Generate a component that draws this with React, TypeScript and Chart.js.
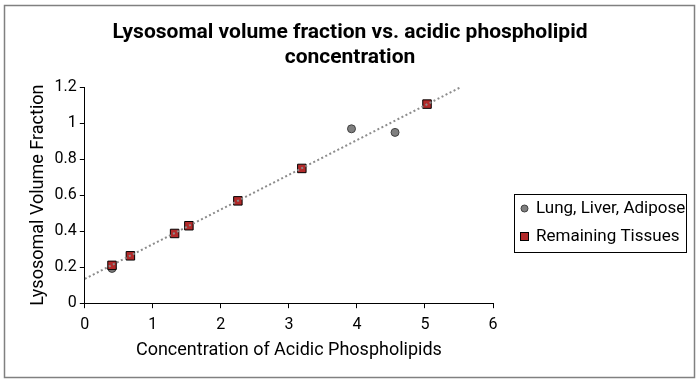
import React, { useEffect, useRef } from "react";
import { Chart, registerables } from "chart.js";

Chart.register(...registerables);

const TITLE_LINES = ["Lysosomal volume fraction vs. acidic phospholipid", "concentration"];
const X_TITLE = "Concentration of Acidic Phospholipids";
const Y_TITLE = "Lysosomal Volume Fraction";

const LUNG_LABEL = "Lung, Liver, Adipose";
const LUNG_X = [0.4, 3.92, 4.56];
const LUNG_Y = [0.193, 0.968, 0.948];

const REST_LABEL = "Remaining Tissues";
const REST_X = [0.4, 0.67, 1.32, 1.53, 2.25, 3.19, 5.03];
const REST_Y = [0.21, 0.263, 0.387, 0.43, 0.568, 0.748, 1.105];

const TREND_X = [0, 5.52];
const TREND_Y = [0.135, 1.198];

const FONT = "Roboto, 'Noto Sans', Arial, sans-serif";

const toPoints = (xs: number[], ys: number[]) => xs.map((x, i) => ({ x, y: ys[i] }));

const frame = {
  id: "frame",
  afterDraw(chart: any) {
    const ctx = chart.ctx;
    ctx.save();
    ctx.strokeStyle = "#808080";
    ctx.lineWidth = 1.5;
    ctx.strokeRect(4.5, 5.5, 690, 372);
    ctx.restore();
  },
};

const titlePlugin = {
  id: "centeredTitle",
  afterDraw(chart: any) {
    const ctx = chart.ctx;
    ctx.save();
    ctx.font = `bold 21px ${FONT}`;
    ctx.fillStyle = "#000";
    ctx.textAlign = "center";
    ctx.textBaseline = "alphabetic";
    const cx = chart.width / 2;
    ctx.fillText(TITLE_LINES[0], cx, 38);
    ctx.fillText(TITLE_LINES[1], cx, 63);
    ctx.restore();
  },
};

const customLegend = {
  id: "customLegend",
  afterDraw(chart: any) {
    const ctx = chart.ctx;
    const a = chart.chartArea;
    const x0 = Math.round(a.right + 21);
    const y0 = Math.round(a.top + 107);
    const w = 172;
    const h = 58;
    ctx.save();
    ctx.strokeStyle = "#000";
    ctx.lineWidth = 1;
    ctx.strokeRect(x0 + 0.5, y0 + 0.5, w, h);
    ctx.font = `17px ${FONT}`;
    ctx.textBaseline = "middle";
    // item 1: circle
    ctx.beginPath();
    ctx.arc(x0 + 10.5, y0 + 14.5, 3.5, 0, Math.PI * 2);
    ctx.fillStyle = "#7f7f7f";
    ctx.fill();
    ctx.strokeStyle = "#404040";
    ctx.stroke();
    ctx.fillStyle = "#000";
    ctx.fillText(LUNG_LABEL, x0 + 22, y0 + 15);
    // item 2: square
    ctx.fillStyle = "#b22a2a";
    ctx.fillRect(x0 + 6.5, y0 + 38.5, 8, 8);
    ctx.strokeStyle = "#000";
    ctx.strokeRect(x0 + 6.5, y0 + 38.5, 8, 8);
    ctx.fillStyle = "#000";
    ctx.fillText(REST_LABEL, x0 + 22, y0 + 43);
    ctx.restore();
  },
};

export default function App() {
  const ref = useRef<HTMLCanvasElement | null>(null);

  useEffect(() => {
    if (!ref.current) return;
    const chart = new Chart(ref.current, {
      type: "scatter",
      data: {
        datasets: [
          {
            label: "Trend",
            data: toPoints(TREND_X, TREND_Y),
            showLine: true,
            borderColor: "#8c8c8c",
            borderWidth: 2,
            borderDash: [2, 2.5],
            pointRadius: 0,
            order: 0,
          } as any,
          {
            label: REST_LABEL,
            data: toPoints(REST_X, REST_Y),
            pointStyle: "rect",
            pointRadius: 6,
            backgroundColor: "#b22a2a",
            borderColor: "#000",
            borderWidth: 1,
            order: 1,
          },
          {
            label: LUNG_LABEL,
            data: toPoints(LUNG_X, LUNG_Y),
            pointStyle: "circle",
            pointRadius: 4,
            backgroundColor: "#7f7f7f",
            borderColor: "#404040",
            borderWidth: 1,
            order: 2,
          },
        ],
      },
      options: {
        animation: false,
        responsive: false,
        layout: { padding: { left: 24, right: 207, top: 87, bottom: 21 } },
        plugins: {
          legend: { display: false },
          tooltip: { enabled: false },
          title: { display: false },
        },
        scales: {
          x: {
            type: "linear",
            min: 0,
            max: 6,
            ticks: { stepSize: 1, color: "#000", font: { family: FONT, size: 16 }, padding: 7 },
            grid: { display: true, drawOnChartArea: false, drawTicks: true, tickLength: 5, color: "#000" },
            border: { display: true, color: "#000", width: 1 },
            title: { display: true, text: X_TITLE, color: "#000", font: { family: FONT, size: 18 }, padding: { top: -2, bottom: 0 } },
          },
          y: {
            type: "linear",
            min: 0,
            max: 1.2,
            ticks: {
              stepSize: 0.2,
              color: "#000",
              font: { family: FONT, size: 16 },
              padding: 3,
              callback: (v: any) => String(Number(Number(v).toFixed(1))),
            },
            grid: { display: true, drawOnChartArea: false, drawTicks: true, tickLength: 5, color: "#000" },
            border: { display: true, color: "#000", width: 1 },
            title: { display: true, text: Y_TITLE, color: "#000", font: { family: FONT, size: 18 }, padding: { top: 4, bottom: 2 } },
          },
        },
      },
      plugins: [frame, titlePlugin, customLegend],
    });
    return () => chart.destroy();
  }, []);

  return (
    <div style={{ position: "absolute", left: 0, top: 0, width: 700, height: 382, background: "#fff" }}>
      <canvas ref={ref} width={700} height={382} style={{ display: "block", width: 700, height: 382 }} />
    </div>
  );
}
